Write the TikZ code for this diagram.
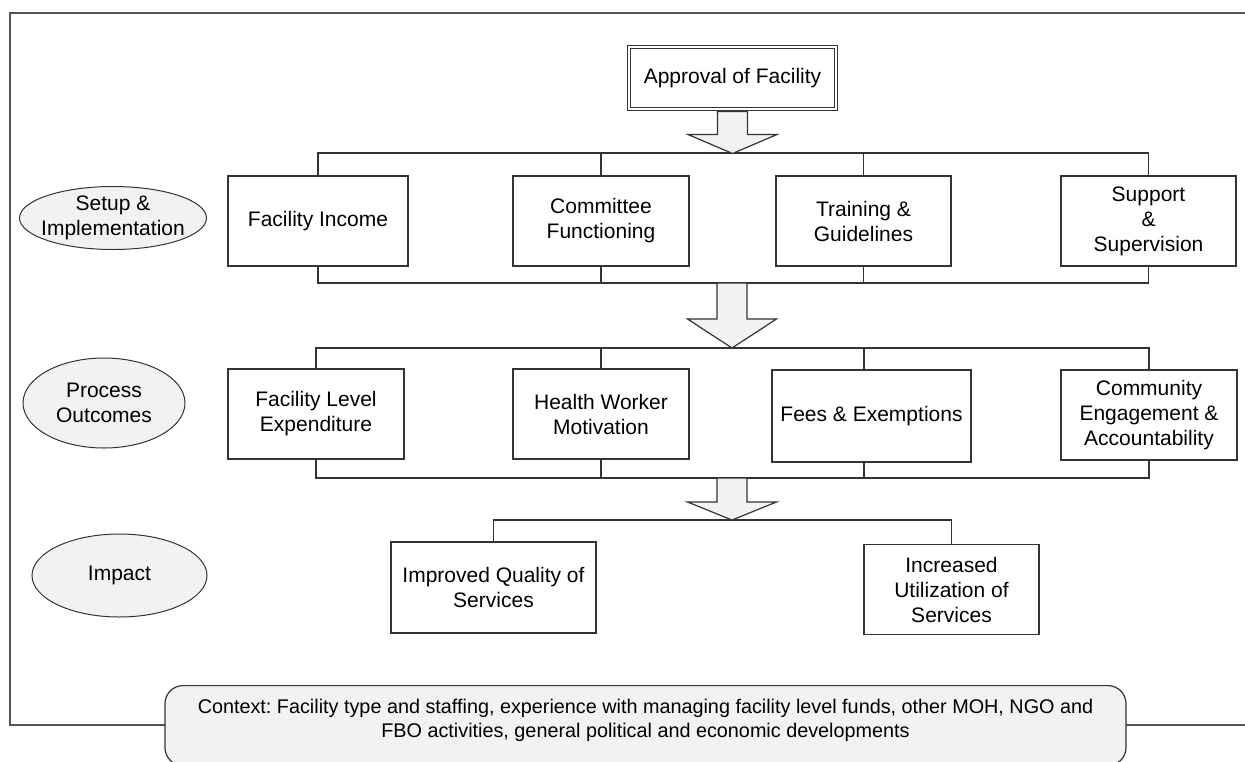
\documentclass[tikz,border=0pt]{standalone}
\usepackage{fontspec}
\setmainfont{Liberation Sans}
\usetikzlibrary{positioning, calc, shapes.geometric}
\definecolor{Ink}{HTML}{333333}
\definecolor{Frame}{HTML}{555555}
\definecolor{Shade}{HTML}{F2F2F2}
\tikzset{
    stagenode/.style={ellipse, draw=Ink, fill=Shade, line width=1pt, align=center, inner sep=0pt, font=\fontsize{21}{25}\selectfont},
    boxnode/.style={rectangle, draw=Ink, fill=white, line width=1.2pt, align=center, inner sep=0pt, font=\fontsize{21}{25}\selectfont},
    ctxbox/.style={rectangle, rounded corners=18pt, draw=Ink, fill=Shade, line width=1.2pt, inner xsep=5.5pt, inner ysep=8pt, font=\fontsize{19.8}{24}\selectfont},
    link/.style={draw=Ink, line width=1.2pt},
    fatarrow/.style={draw=Ink, fill=Shade, line width=1.2pt, line join=miter},
}
% freccia larga: punto di partenza, lunghezza fusto, lunghezza punta
\newcommand{\flowarrow}[3]{\draw[fatarrow] #1 ++(-15,0) -- ++(0,#2) -- ++(-29.5,0) -- ++(44.5,#3) -- ++(44.5,-#3) -- ++(-29.5,0) -- ++(0,-#2) -- cycle;}
\frenchspacing

\begin{document}
\begin{tikzpicture}[x=1pt, y=-1pt]
    \useasboundingbox (0,0) rectangle (1245,761);

    % Cornice aperta a destra
    \draw[draw=Frame, line width=1.5pt] (1250,13) -- (10,13) -- (10,725) -- (1250,725);

    % --- Fasi (ellissi a sinistra) ---
    \node[stagenode, minimum width=187, minimum height=63, inner xsep=-6pt] (setup) at (113,218) {Setup \&\\Implementation};
    \node[stagenode, minimum width=162, minimum height=90] (proc) at (104,403) {Process\\Outcomes};
    \node[stagenode, minimum width=175, minimum height=83] (impact) at (119.5,575.5) {Impact};

    % --- Approvazione ---
    \node[boxnode, double, double distance=2pt, line width=1pt, minimum width=207, minimum height=62] (appr) at (732.5,78) {Approval of Facility};

    % --- 1. Setup & Implementation ---
    \node[boxnode, minimum width=180, minimum height=90] (inc) at (318,221) {Facility Income};
    \node[boxnode, minimum width=176, minimum height=90] (comm) at (601,221) {Committee\\Functioning};
    \node[boxnode, minimum width=175, minimum height=90] (train) at (863.5,221) {Training \&\\Guidelines};
    \node[boxnode, minimum width=175, minimum height=90] (supp) at (1148.5,221) {Support\\\&\\Supervision};

    % --- 2. Process Outcomes ---
    \node[boxnode, minimum width=176, minimum height=90] (exp) at (316,414) {Facility Level\\Expenditure};
    \node[boxnode, minimum width=176, minimum height=90] (motiv) at (601,414) {Health Worker\\Motivation};
    \node[boxnode, minimum width=199, minimum height=92] (fees) at (871.5,416) {Fees \& Exemptions};
    \node[boxnode, minimum width=176, minimum height=90] (cea) at (1149,415) {Community\\Engagement \&\\Accountability};

    % --- 3. Impact ---
    \node[boxnode, minimum width=205, minimum height=91] (qual) at (493.5,587.5) {Improved Quality of\\Services};
    \node[boxnode, minimum width=175, minimum height=90] (util) at (951.5,589.5) {Increased\\Utilization of\\Services};

    % Punti dei collettori
    \coordinate (tip1) at (732,153);
    \coordinate (tail2) at (732,283);
    \coordinate (tip2) at (732,348);
    \coordinate (tail3) at (732,478);
    \coordinate (tip3) at (732,520);
    \coordinate (feestop) at ([xshift=-7.5pt]fees.north);
    \coordinate (feesbot) at ([xshift=-7.5pt]fees.south);

    % Collettori riga 1
    \draw[link] (inc.north) |- (tip1) -| (supp.north);
    \draw[link] (inc.south) |- (tail2) -| (supp.south);
    \foreach \n in {comm, train} {
        \draw[link] (\n.north) -- (\n.north |- tip1);
        \draw[link] (\n.south) -- (\n.south |- tail2);
    }

    % Collettori riga 2
    \draw[link] (exp.north) |- (tip2) -| (cea.north);
    \draw[link] (exp.south) |- (tail3) -| (cea.south);
    \draw[link] (motiv.north) -- (motiv.north |- tip2);
    \draw[link] (motiv.south) -- (motiv.south |- tail3);
    \draw[link] (feestop) -- (feestop |- tip2);
    \draw[link] (feesbot) -- (feesbot |- tail3);

    % Collettore riga 3
    \draw[link] (qual.north) |- (tip3) -| (util.north);

    % Frecce larghe
    \flowarrow{([yshift=-2pt]appr.south)}{23}{19}
    \flowarrow{(tail2)}{36}{29}
    \flowarrow{(tail3)}{24}{18}

    % --- Contesto ---
    \node[ctxbox, anchor=north] (ctx) at (645.5,685) {\parbox[c][64pt][t]{950pt}{\vspace*{6pt}\centering Context: Facility type and staffing, experience with managing facility level funds, other MOH, NGO and\\ FBO activities, general political and economic developments}};

\end{tikzpicture}
\end{document}
